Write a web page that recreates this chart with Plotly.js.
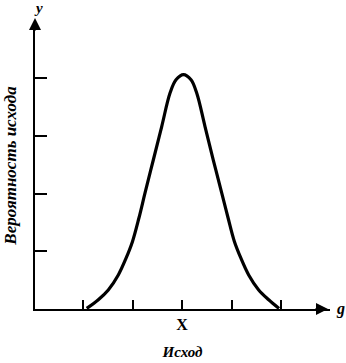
<!DOCTYPE html>
<html>
<head>
<meta charset="utf-8">
<script src="https://cdn.plot.ly/plotly-3.0.1.min.js"></script>
<style>html,body{margin:0;padding:0;background:#fff;}#chart{width:346px;height:363px;}</style>
</head>
<body>
<div id="chart"></div>
<script>
// Outcome (g) values and probability of outcome (y)
const outcome = [-1.925, -1.691, -1.489, -1.287, -1.130, -1.000, -0.869, -0.747, -0.580, -0.410, -0.242, -0.121, 0.030, 0.182, 0.297, 0.465, 0.632, 0.802, 0.930, 1.058, 1.190, 1.347, 1.549, 1.752, 1.960];
const probability = [0.01, 0.16, 0.33, 0.59, 0.88, 1.17, 1.58, 2.01, 2.58, 3.16, 3.74, 3.97, 4.06, 3.97, 3.74, 3.16, 2.58, 2.01, 1.58, 1.17, 0.88, 0.59, 0.33, 0.16, 0.01];
const xTickVals = [-2, -1, 0, 1, 2];
const xTickText = ['', '', 'X', '', ''];
const yTickVals = [1, 2, 3, 4];

const serif = 'Liberation Serif, DejaVu Serif, serif';

const trace = {
  x: outcome, y: probability, type: 'scatter', mode: 'lines',
  line: {color: '#000', width: 3.2, shape: 'spline', smoothing: 1},
  hoverinfo: 'skip', showlegend: false
};

const layout = {
  width: 346, height: 363,
  margin: {l: 35, r: 16, t: 22, b: 54},
  paper_bgcolor: '#fff', plot_bgcolor: '#fff',
  showlegend: false,
  xaxis: {
    range: [-2.97, 2.99], showgrid: false, zeroline: false,
    showline: true, linecolor: '#000', linewidth: 2,
    ticks: 'inside', ticklen: 9, tickwidth: 2, tickcolor: '#000',
    tickvals: xTickVals, ticktext: xTickText,
    tickfont: {family: serif, size: 16, color: '#000', weight: 'bold'},
    title: {text: '<b><i>Исход</i></b>', font: {family: serif, size: 15, color: '#000'}, standoff: 14},
    fixedrange: true
  },
  yaxis: {
    range: [0, 4.97], showgrid: false, zeroline: false,
    showline: true, linecolor: '#000', linewidth: 2,
    ticks: 'inside', ticklen: 12, tickwidth: 2, tickcolor: '#000',
    tickvals: yTickVals, showticklabels: false,
    title: {text: '<b><i>Вероятность исхода</i></b>', font: {family: serif, size: 17, color: '#000'}, standoff: 12},
    fixedrange: true
  },
  annotations: [
    {xref: 'paper', yref: 'paper', x: 0, y: 1.0, yshift: 4, ax: 0, ay: 14, text: '', showarrow: true,
     arrowhead: 2, arrowsize: 1.2, arrowwidth: 2, arrowcolor: '#000', standoff: 0},
    {xref: 'paper', yref: 'paper', x: 1.0, y: 0, xshift: -2, ax: -14, ay: 0, text: '', showarrow: true,
     arrowhead: 2, arrowsize: 1.2, arrowwidth: 2, arrowcolor: '#000', standoff: 0},
    {xref: 'paper', yref: 'paper', x: 0, y: 1.0, xshift: 3, yshift: 14, xanchor: 'center', yanchor: 'middle',
     text: '<b><i>y</i></b>', showarrow: false, font: {family: serif, size: 15, color: '#000'}},
    {xref: 'paper', yref: 'paper', x: 1.0, y: 0, xshift: 4, xanchor: 'left', yanchor: 'middle',
     text: '<b><i>g</i></b>', showarrow: false, font: {family: serif, size: 16, color: '#000'}}
  ]
};

Plotly.newPlot('chart', [trace], layout, {displayModeBar: false, staticPlot: true});
</script>
</body>
</html>
